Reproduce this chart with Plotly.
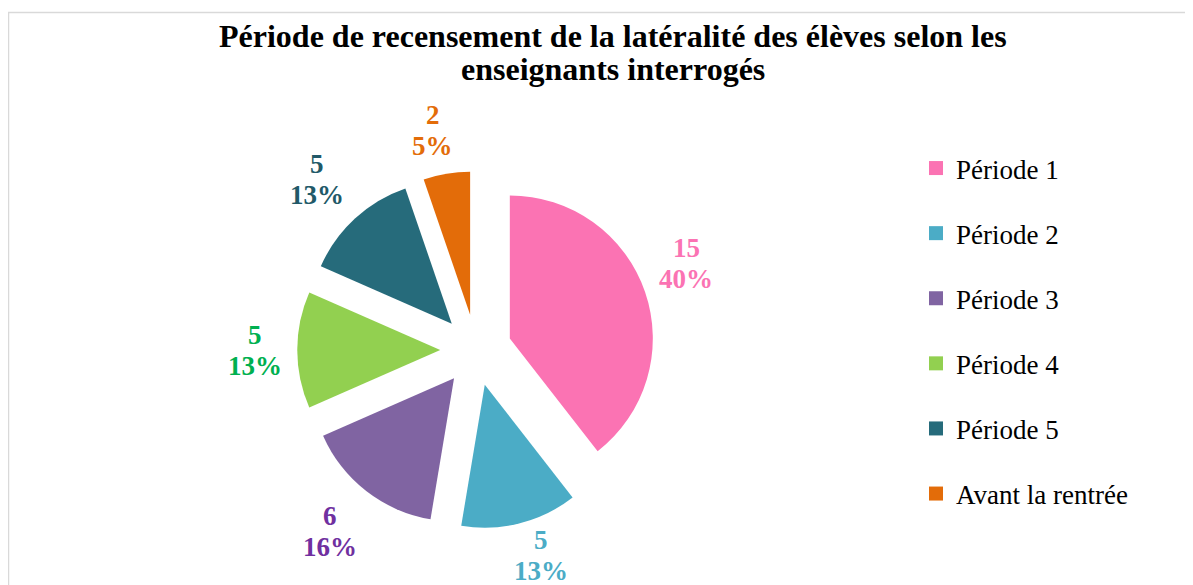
import math
import plotly.graph_objects as go

labels = ["Période 1", "Période 2", "Période 3", "Période 4", "Période 5", "Avant la rentrée"]
values = [15, 5, 6, 5, 5, 2]
slice_colors = ["#FB73B3", "#4BACC6", "#8064A2", "#92D050", "#266B7B", "#E36C09"]
label_colors = ["#FB73B3", "#4BACC6", "#7030A0", "#00B050", "#215968", "#E36C09"]
title_lines = ["Période de recensement de la latéralité des élèves selon les", "enseignants interrogés"]

# Figure size (the page body adds an 8px offset, so the figure is 8px smaller)
W, H = 1185, 577
FONT = "Liberation Serif"

# pie geometry (figure pixels)
CX, CY, R = 468, 342, 143
PULL = 0.25
SIDE = 2 * R * (1 + PULL)

# percentages rounded to a total of 100 (largest remainder), as in the original
total = sum(values)
raw = [v * 100 / total for v in values]
pcts = [math.floor(p) for p in raw]
order = sorted(range(len(raw)), key=lambda i: raw[i] - pcts[i], reverse=True)
for i in order[: 100 - sum(pcts)]:
    pcts[i] += 1

fig = go.Figure()

fig.add_trace(go.Pie(
    labels=labels,
    values=values,
    sort=False,
    direction="clockwise",
    rotation=0,
    pull=[PULL] * len(values),
    marker=dict(colors=slice_colors, line=dict(width=0)),
    textinfo="none",
    showlegend=False,
    domain=dict(x=[(CX - SIDE / 2) / W, (CX + SIDE / 2) / W],
                y=[1 - (CY + SIDE / 2) / H, 1 - (CY - SIDE / 2) / H]),
    hoverinfo="label+value+percent",
))

# data labels placed outside each slice, along its mid-angle, kept inside the chart area
GAP, HW, HH, LINE = 14, 28, 29, 31
cum = 0
for v, p, col in zip(values, pcts, label_colors):
    mid = (cum + v / 2) / total * 2 * math.pi
    cum += v
    ux, uy = math.sin(mid), -math.cos(mid)
    d = R * (1 + PULL) + GAP
    bx = CX + ux * d + max(-1, min(1, 2.5 * ux)) * HW
    by = CY + uy * d + max(-1, min(1, 2.5 * uy)) * HH
    by = min(by, H - LINE / 2 - 14)
    for txt, dy in ((f"<b>{v}</b>", -LINE / 2), (f"<b>{p}%</b>", LINE / 2)):
        fig.add_annotation(text=txt, x=bx / W, y=1 - (by + dy) / H, xref="paper", yref="paper",
                           showarrow=False, xanchor="center", yanchor="middle",
                           font=dict(family=FONT, size=27, color=col))

for k, line in enumerate(title_lines):
    fig.add_annotation(text=f"<b>{line}</b>", x=605 / W, y=1 - (27.5 + 33.5 * k) / H,
                       xref="paper", yref="paper", showarrow=False,
                       xanchor="center", yanchor="middle",
                       font=dict(family=FONT, size=32, color="#000000"))

for i, lab in enumerate(labels):
    fig.add_trace(go.Scatter(
        x=[None], y=[None], mode="markers", name=lab,
        legendgroup=f"g{i}",
        marker=dict(symbol="square", size=14, color=slice_colors[i]),
    ))

fig.add_shape(type="rect", xref="paper", yref="paper",
              x0=0.5 / W, x1=1.02, y0=-0.05, y1=1 - 4.5 / H,
              line=dict(color="#D9D9D9", width=1.5), fillcolor="rgba(0,0,0,0)", layer="below")

fig.update_layout(
    width=W, height=H,
    margin=dict(l=0, r=0, t=0, b=0, autoexpand=False),
    paper_bgcolor="white", plot_bgcolor="white",
    xaxis=dict(visible=False), yaxis=dict(visible=False),
    legend=dict(x=908 / W, y=1 - 136 / H, xanchor="left", yanchor="top",
                font=dict(family=FONT, size=27, color="#000000"),
                tracegroupgap=27, bgcolor="rgba(0,0,0,0)", itemsizing="trace"),
)

fig.write_html("out.html")
